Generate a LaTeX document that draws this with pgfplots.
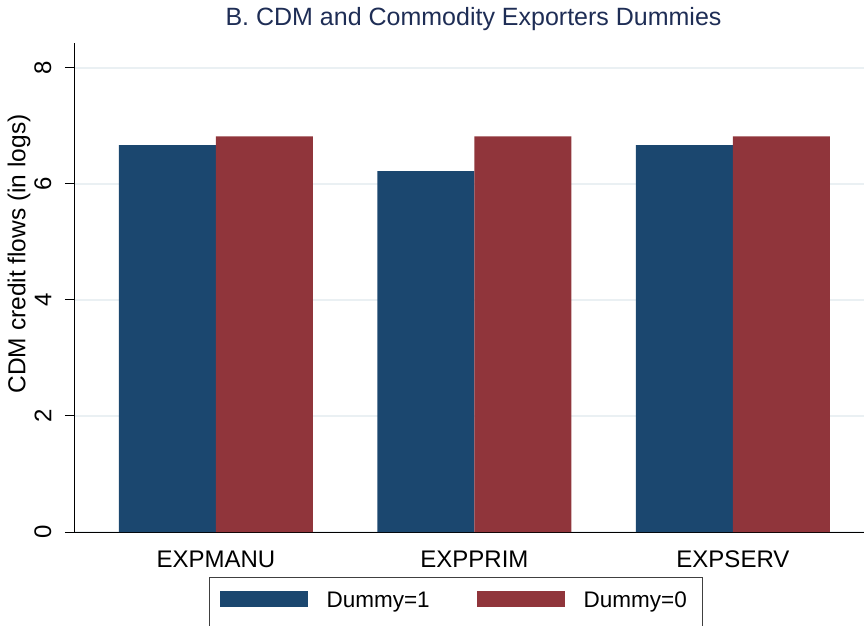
\documentclass[border=0pt]{standalone}
\usepackage{pgfplots}
\pgfplotsset{compat=1.18}
\usepackage{fontspec}
\setmainfont{Liberation Sans}
\definecolor{statablue}{RGB}{27,71,111}
\definecolor{statared}{RGB}{144,53,59}
\definecolor{gridc}{RGB}{234,240,243}
\definecolor{titlec}{RGB}{30,45,85}
\begin{document}
\begin{tikzpicture}
\begin{axis}[
  at={(74.5pt,93pt)}, anchor=south west,
  scale only axis, width=789.5pt, height=489pt,
  xmin=-0.547, xmax=2.507, ymin=0, ymax=8.43,
  ybar=0pt, bar width=97pt,
  axis x line*=bottom, axis y line*=left,
  axis line style={-, line width=1pt, black},
  xtick={0,1,2}, xticklabels={EXPMANU,EXPPRIM,EXPSERV},
  x tick style={draw=none},
  ytick={0,2,4,6,8},
  tick align=outside, major tick length=9.5pt,
  y tick style={black, line width=1pt},
  ymajorgrids, major grid style={color=gridc, line width=1.6pt},
  /pgf/number format/assume math mode=true,
  xticklabel style={anchor=base, inner sep=0pt, yshift=-26pt, font=\fontsize{24}{28}\selectfont},
  yticklabel style={xshift=-13.5pt, rotate=90, anchor=south, inner sep=0pt, font=\fontsize{24}{28}\selectfont},
  ylabel={CDM credit flows (in logs)},
  ylabel style={at={(axis description cs:-0.0703,0.5685)}, anchor=center, inner sep=0pt, font=\fontsize{24.5}{28}\selectfont},
  title={B. CDM and Commodity Exporters Dummies},
  title style={at={(axis description cs:0.5054,1.0245)}, anchor=base, inner sep=0pt, text=titlec, font=\fontsize{25}{28}\selectfont},
  legend columns=2,
  legend style={at={(axis description cs:0.1704,-0.092)}, anchor=north west,
    draw=black!75, line width=1pt, inner xsep=10pt, inner ysep=14pt,
    column sep=0pt, row sep=0pt,
    cells={anchor=base west},
    nodes={inner sep=0pt, font=\fontsize{22.5}{27}\selectfont}},
]
\addplot[fill=statablue, draw=none,
  legend image code/.code={\fill[statablue] (0pt,0pt) rectangle (88pt,16pt); \path[fill=none,draw=none] (0pt,-40pt) rectangle (107pt,16pt);}]
  coordinates {(0,6.67) (1,6.22) (2,6.67)};
\addplot[fill=statared, draw=none,
  legend image code/.code={\fill[statared] (47pt,0pt) rectangle (135pt,16pt); \path[fill=none,draw=none] (0pt,-40pt) rectangle (154pt,16pt);}]
  coordinates {(0,6.82) (1,6.82) (2,6.82)};
\legend{Dummy=1, Dummy=0\rule{6pt}{0pt}}
\end{axis}
\pgfresetboundingbox
\path (0pt,0pt) rectangle (864pt,625pt);
\end{tikzpicture}
\end{document}
